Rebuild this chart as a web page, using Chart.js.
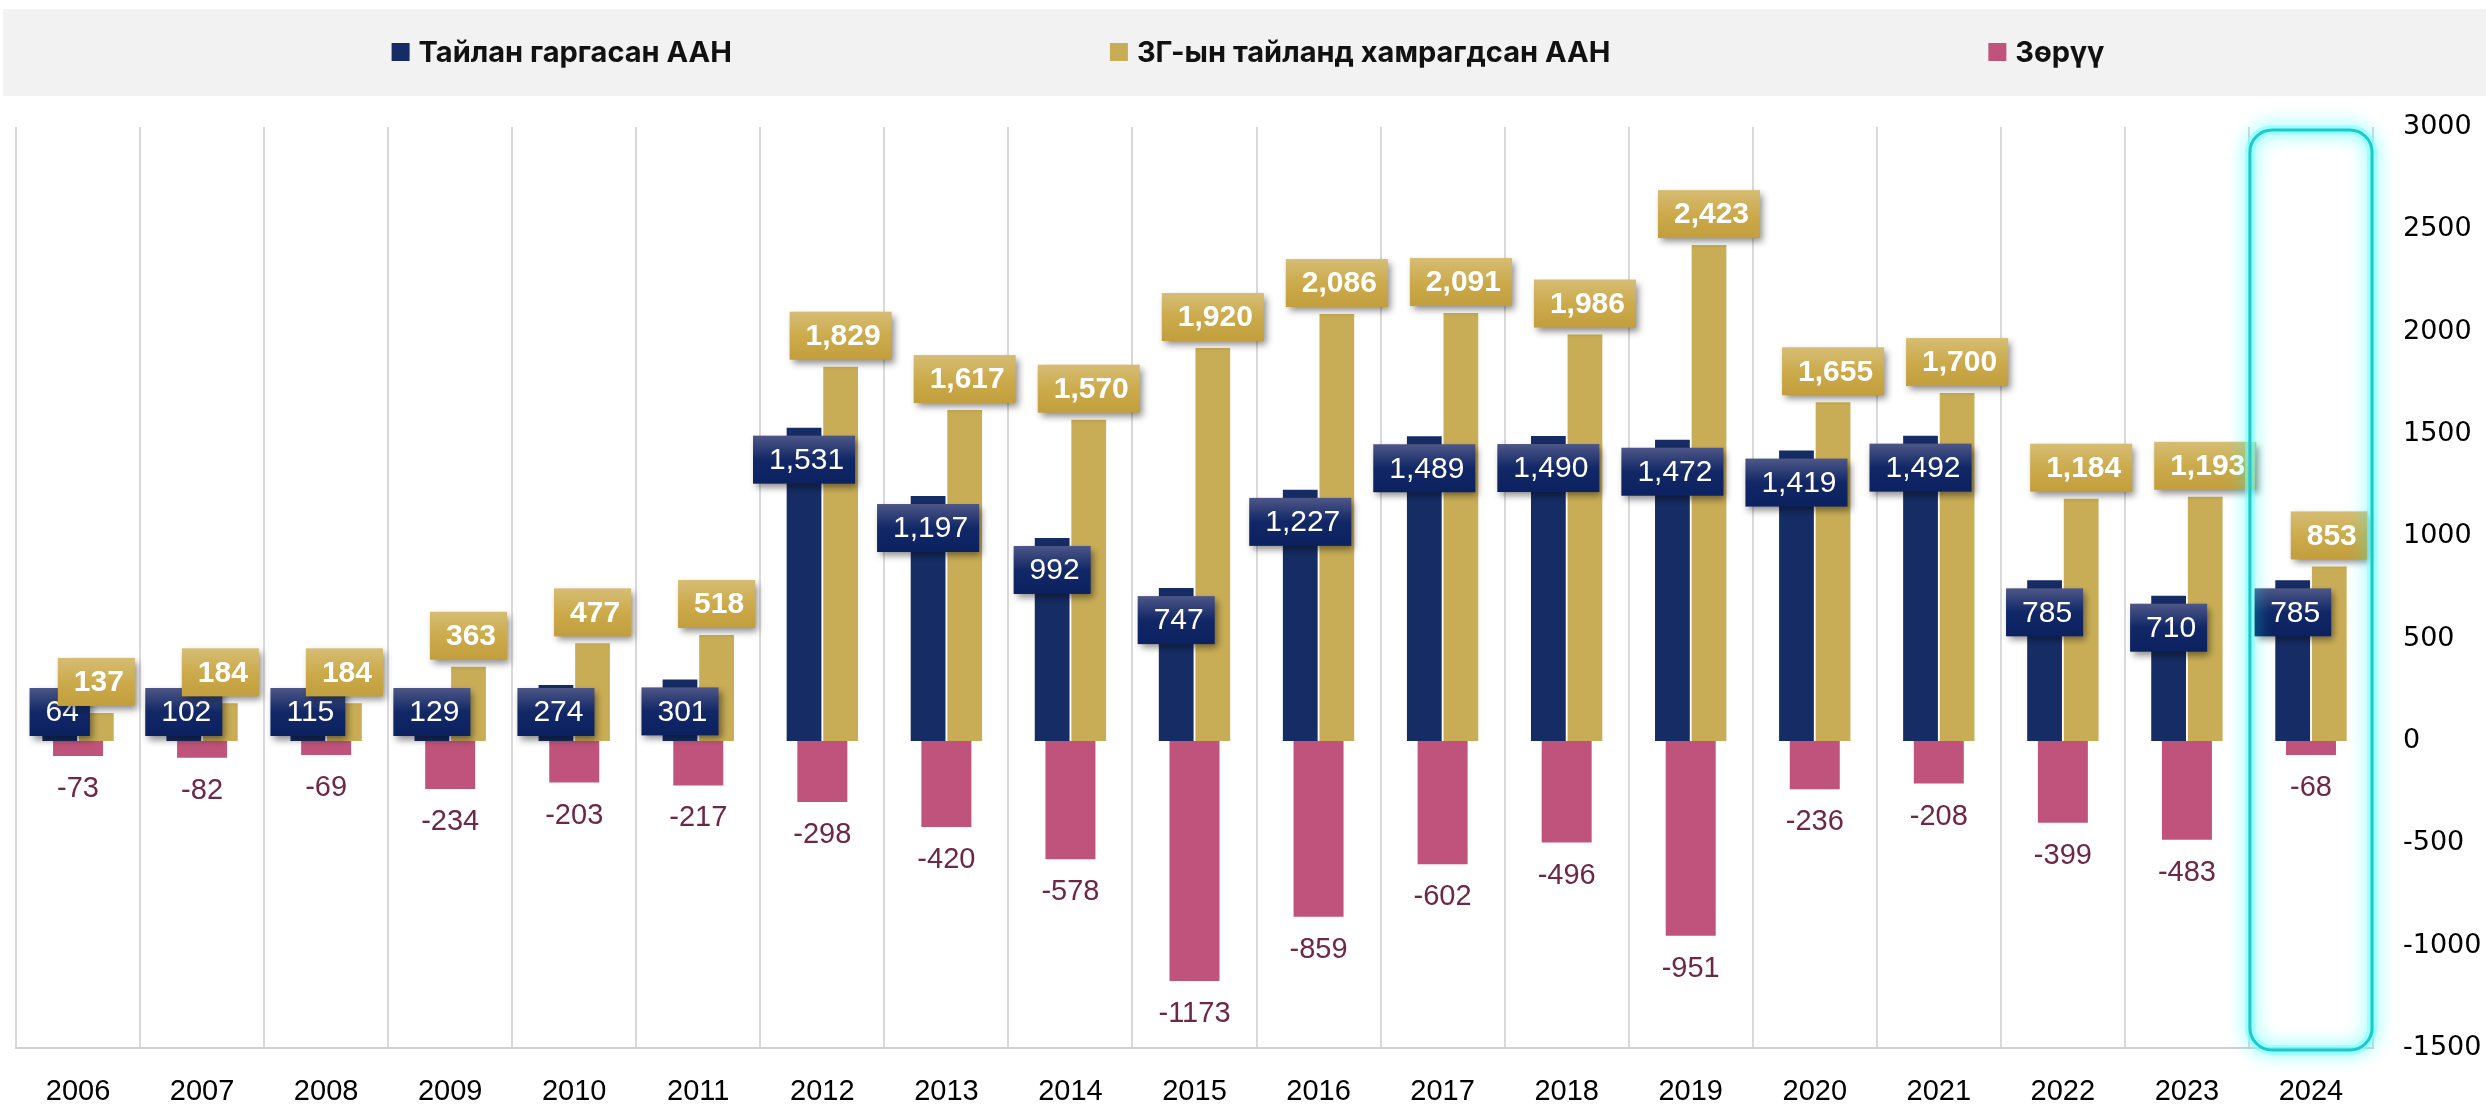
<!DOCTYPE html>
<html lang="mn">
<head>
<meta charset="UTF-8">
<title>ААН тайлан</title>
<script src="https://cdn.jsdelivr.net/npm/chart.js"></script>
<style>
  html, body { margin: 0; padding: 0; background: #fff; }
  #wrap { width: 2486px; height: 1105px; position: relative; }
</style>
</head>
<body>
<div id="wrap"><canvas id="myChart"></canvas></div>
<script>
// data
const years = ['2006', '2007', '2008', '2009', '2010', '2011', '2012', '2013', '2014', '2015',
  '2016', '2017', '2018', '2019', '2020', '2021', '2022', '2023', '2024'];
const reported = [64, 102, 115, 129, 274, 301, 1531, 1197, 992, 747, 1227, 1489, 1490, 1472, 1419, 1492, 785, 710, 785];
const covered = [137, 184, 184, 363, 477, 518, 1829, 1617, 1570, 1920, 2086, 2091, 1986, 2423, 1655, 1700, 1184, 1193, 853];
const diff = [-73, -82, -69, -234, -203, -217, -298, -420, -578, -1173, -859, -602, -496, -951, -236, -208, -399, -483, -68];
const seriesNames = ['Тайлан гаргасан ААН', 'ЗГ-ын тайланд хамрагдсан ААН', 'Зөрүү'];
const seriesColors = ['#152c64', '#c9ad56', '#c0537b'];
const yMin = -1500, yMax = 3000, yStep = 500;
const highlightYear = '2024';

const NUM_FONT = '"Liberation Sans", Arial, sans-serif';

function tagBox(ctx, cx, cy, text, stops, bold) {
  ctx.font = (bold ? 'bold ' : '') + '30px ' + NUM_FONT;
  const w = ctx.measureText(text).width + 27, h = 48;
  const x = cx - w / 2, y = cy - h / 2;
  ctx.save();
  ctx.shadowColor = 'rgba(0,0,0,0.45)';
  ctx.shadowBlur = 7;
  ctx.shadowOffsetX = 3;
  ctx.shadowOffsetY = 4;
  const g = ctx.createLinearGradient(0, y, 0, y + h);
  g.addColorStop(0, stops[0]);
  g.addColorStop(0.5, stops[1]);
  g.addColorStop(1, stops[2]);
  ctx.fillStyle = g;
  ctx.fillRect(x, y, w, h);
  ctx.restore();
  ctx.fillStyle = '#ffffff';
  ctx.textAlign = 'center';
  ctx.textBaseline = 'middle';
  ctx.fillText(text, cx + 2.5, cy + 1);
}

// legend band drawn by hand so the three items spread like the original
const legendBand = {
  id: 'legendBand',
  beforeDraw(chart) {
    const ctx = chart.ctx;
    ctx.save();
    ctx.fillStyle = '#f2f2f2';
    ctx.fillRect(3, 9, chart.width - 3, 87);
    ctx.font = 'bold 29px Inter, Roboto, "Liberation Sans", Arial, sans-serif';
    const gap = 378, box = 18, space = 9;
    const widths = seriesNames.map(n => box + space + ctx.measureText(n).width);
    const total = widths.reduce((a, b) => a + b, 0) + gap * (widths.length - 1);
    let x = chart.width / 2 + 5 - total / 2;
    ctx.textBaseline = 'middle';
    ctx.textAlign = 'left';
    seriesNames.forEach((n, i) => {
      ctx.fillStyle = seriesColors[i];
      ctx.fillRect(x, 43, box, box);
      ctx.fillStyle = '#111111';
      ctx.fillText(n, x + box + space, 53);
      x += widths[i] + gap;
    });
    ctx.restore();
  }
};

const valueLabels = {
  id: 'valueLabels',
  afterDatasetsDraw(chart) {
    const ctx = chart.ctx;
    const zeroY = chart.scales.y.getPixelForValue(0);
    ctx.save();
    // Зөрүү labels under the bars
    ctx.font = '29px ' + NUM_FONT;
    ctx.fillStyle = '#6e2747';
    ctx.textAlign = 'center';
    ctx.textBaseline = 'middle';
    chart.getDatasetMeta(2).data.forEach((bar, i) => {
      ctx.fillText(String(diff[i]), bar.x, bar.y + 33);
    });
    // navy tags, inside the top of the bar
    chart.getDatasetMeta(0).data.forEach((bar, i) => {
      const cy = Math.min(bar.y + 32, zeroY - 29);
      tagBox(ctx, bar.x, cy, reported[i].toLocaleString('en-US'), ['#4e5787', '#112766', '#0b2160'], false);
    });
    // gold tags, above the bar
    chart.getDatasetMeta(1).data.forEach((bar, i) => {
      tagBox(ctx, bar.x, bar.y - 31, covered[i].toLocaleString('en-US'), ['#d6bd75', '#ccab4c', '#c29e3c'], true);
    });
    ctx.restore();
  },
  afterDraw(chart) {
    // glowing frame round the last year
    const ctx = chart.ctx;
    const xs = chart.scales.x;
    const idx = years.indexOf(highlightYear);
    const half = (xs.getPixelForValue(1) - xs.getPixelForValue(0)) / 2;
    const cx = xs.getPixelForValue(idx);
    const left = cx - half + 1, right = cx + half - 1;
    const top = chart.chartArea.top + 3, bottom = chart.chartArea.bottom + 2;
    const r = 22;
    ctx.save();
    ctx.beginPath();
    ctx.moveTo(left + r, top);
    ctx.arcTo(right, top, right, bottom, r);
    ctx.arcTo(right, bottom, left, bottom, r);
    ctx.arcTo(left, bottom, left, top, r);
    ctx.arcTo(left, top, right, top, r);
    ctx.closePath();
    ctx.shadowColor = 'rgba(0,255,255,0.9)';
    ctx.shadowBlur = 18;
    ctx.strokeStyle = 'rgba(120,255,255,0.55)';
    ctx.lineWidth = 10;
    ctx.stroke();
    ctx.shadowBlur = 0;
    ctx.strokeStyle = '#1cc9c9';
    ctx.lineWidth = 3;
    ctx.stroke();
    ctx.restore();
  }
};

const ctx = document.getElementById('myChart').getContext('2d');
const myChart = new Chart(ctx, {
  type: 'bar',
  data: {
    labels: years,
    datasets: [
      {
        label: seriesNames[0],
        data: reported,
        backgroundColor: seriesColors[0],
        categoryPercentage: 0.59,
        barPercentage: 0.95
      },
      {
        label: seriesNames[1],
        data: covered,
        backgroundColor: seriesColors[1],
        categoryPercentage: 0.59,
        barPercentage: 0.95
      },
      {
        label: seriesNames[2],
        data: diff,
        backgroundColor: seriesColors[2],
        grouped: false,
        categoryPercentage: 0.403,
        barPercentage: 1
      }
    ]
  },
  options: {
    responsive: true,
    maintainAspectRatio: false,
    animation: false,
    devicePixelRatio: 1,
    layout: { padding: { left: 16, top: 127, right: 0, bottom: 0 } },
    plugins: {
      legend: { display: false },
      tooltip: { enabled: false }
    },
    scales: {
      x: {
        position: 'bottom',
        offset: true,
        grid: { display: true, offset: true, color: '#d9d9d9', lineWidth: 2, drawTicks: false },
        border: { display: true, color: '#d0d0d0', width: 2 },
        ticks: { color: '#000', padding: 27, font: { size: 29, family: NUM_FONT } },
        afterFit(scale) { scale.height = 57; }
      },
      y: {
        position: 'right',
        min: yMin,
        max: yMax,
        ticks: {
          stepSize: yStep,
          color: '#000',
          padding: 30,
          font: { size: 27, family: '"DejaVu Sans", Verdana, sans-serif' },
          callback: v => String(v)
        },
        grid: { display: false, drawTicks: false },
        border: { display: false },
        afterFit(scale) { scale.width = 113; }
      }
    }
  },
  plugins: [legendBand, valueLabels]
});
</script>
</body>
</html>
